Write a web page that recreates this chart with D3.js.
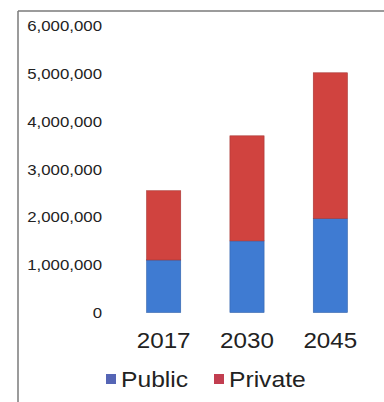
<!DOCTYPE html>
<html lang="en">
<head>
    <meta charset="UTF-8">
    <script src="https://d3js.org/d3.v7.min.js"></script>
    <title>public private</title>
    <style>
      body { margin: 0; background: #fff; }
      text { font-family: "Liberation Sans", Arial, sans-serif; fill: #222; }
    </style>
</head>
<body>
    <div id="chart"></div>

    <script>
      // values
      var years = ["2017", "2030", "2045"];
      var publicVals = [1100000, 1500000, 1970000];
      var privateVals = [1450000, 2200000, 3050000];
      var yTicks = [0, 1000000, 2000000, 3000000, 4000000, 5000000, 6000000];
      var seriesNames = ["Public", "Private"];
      var colors = {"Public": "#3f7bd2", "Private": "#d0433f"};
      var legendColors = {"Public": "#5565b5", "Private": "#c23e50"};

      var W = 384, H = 402;
      var svg = d3.select("#chart").append("svg")
          .attr("width", W).attr("height", H);

      // frame (top + left lines only)
      svg.append("line").attr("x1", 18).attr("x2", W).attr("y1", 11).attr("y2", 11)
          .attr("stroke", "#7a7a7a").attr("stroke-width", 1.5);
      svg.append("line").attr("x1", 18).attr("x2", 18).attr("y1", 11).attr("y2", H)
          .attr("stroke", "#7a7a7a").attr("stroke-width", 1.5);

      var y = d3.scaleLinear().domain([0, 6000000]).range([312.5, 26]);
      var x = d3.scaleBand().domain(years).range([122, 372])
          .paddingInner(0.59).paddingOuter(0.295);

      // stretch text a bit horizontally like the source picture
      function widen(sel, k) {
        sel.each(function() {
          var len = this.getComputedTextLength();
          d3.select(this).attr("textLength", len * k).attr("lengthAdjust", "spacingAndGlyphs");
        });
      }

      var fmt = d3.format(",");
      var yAxis = d3.axisLeft(y).tickValues(yTicks).tickSize(0).tickPadding(0).tickFormat(fmt);
      var ga = svg.append("g").attr("transform", "translate(102,0)").call(yAxis);
      ga.select(".domain").remove();
      ga.selectAll("text").attr("font-size", 15).attr("fill", "#333")
          .style("font-family", "'Liberation Sans', Arial, sans-serif");
      widen(ga.selectAll("text"), 1.12);

      var data = years.map(function(yr, i) {
        return {year: yr, Public: publicVals[i], Private: privateVals[i]};
      });
      var stacked = d3.stack().keys(seriesNames)(data);

      svg.append("g").selectAll("g").data(stacked).enter().append("g")
          .attr("fill", d => colors[d.key])
          .attr("stroke", d => d3.color(colors[d.key]).darker(0.6))
          .attr("stroke-width", 0.6)
        .selectAll("rect").data(d => d).enter().append("rect")
          .attr("x", d => x(d.data.year))
          .attr("width", x.bandwidth())
          .attr("y", d => y(d[1]))
          .attr("height", d => y(d[0]) - y(d[1]));

      var xAxis = d3.axisBottom(x).tickSize(0).tickPadding(0);
      var gx = svg.append("g").attr("transform", "translate(0,332)").call(xAxis);
      gx.select(".domain").remove();
      gx.selectAll("text").attr("font-size", 22).attr("fill", "#222").attr("dy", "0.71em")
          .style("font-family", "'Liberation Sans', Arial, sans-serif");
      widen(gx.selectAll("text"), 1.1);

      // legend
      var legX = [106, 214];
      var leg = svg.append("g").selectAll("g").data(seriesNames).enter().append("g")
          .attr("transform", (d, i) => "translate(" + legX[i] + ",374)");
      leg.append("rect").attr("width", 10).attr("height", 10)
          .attr("fill", d => legendColors[d]);
      var lt = leg.append("text").attr("x", 15).attr("y", 13)
          .attr("font-size", 22).text(d => d);
      widen(lt, 1.12);
    </script>
</body>
</html>
